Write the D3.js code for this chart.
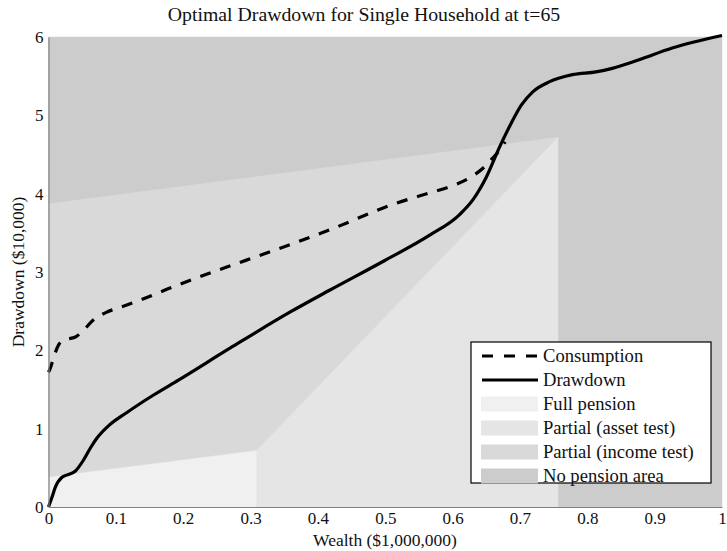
<!DOCTYPE html>
<html><head><meta charset="utf-8">
<script src="https://cdn.jsdelivr.net/npm/d3@7"></script>
<style>body{margin:0;background:#fff}</style>
</head><body>
<svg id="c" width="727" height="551"></svg>
<script>
// ---- data ----
const title = "Optimal Drawdown for Single Household at t=65";
const xLabel = "Wealth ($1,000,000)";
const yLabel = "Drawdown ($10,000)";
const xTicks = [0,0.1,0.2,0.3,0.4,0.5,0.6,0.7,0.8,0.9,1];
const xTickLabels = ["0","0.1","0.2","0.3","0.4","0.5","0.6","0.7","0.8","0.9","1"];
const yTicks = [0,1,2,3,4,5,6];

const drawX = [0,0.005,0.01,0.02,0.028,0.04,0.052,0.062,0.072,0.087,0.117,0.156,0.193,0.27,0.359,0.418,0.5,0.566,0.61,0.63,0.65,0.67,0.687,0.702,0.719,0.744,0.778,0.813,0.837,0.877,0.926,1.0];
const drawY = [0,0.12,0.25,0.38,0.41,0.46,0.6,0.75,0.88,1.02,1.21,1.43,1.62,2.03,2.49,2.77,3.15,3.47,3.73,3.92,4.21,4.6,4.9,5.13,5.3,5.43,5.52,5.555,5.6,5.71,5.86,6.02];

const consX = [0,0.003,0.008,0.015,0.022,0.04,0.05,0.067,0.087,0.107,0.136,0.185,0.244,0.277,0.418,0.517,0.566,0.596,0.625,0.647,0.659,0.672,0.678];
const consY = [1.72,1.78,1.92,2.07,2.13,2.17,2.24,2.39,2.49,2.55,2.64,2.81,3.0,3.1,3.54,3.88,4.01,4.09,4.2,4.34,4.45,4.58,4.66];

const fullPension = [[0,0],[0,0.38],[0.309,0.72],[0.309,0]];
const assetTest = [[0.309,0],[0.309,0.72],[0.7565,4.72],[0.7565,0]];
const incomeTest = [[0,0.38],[0,3.87],[0.7565,4.72],[0.309,0.72]];
const noPension = [[0,0],[0,6],[1,6],[1,0]];

const legendLabels = ["Consumption","Drawdown","Full pension","Partial (asset test)","Partial (income test)","No pension area"];
const regionColors = {full:"#f0f0f0", asset:"#e5e5e5", income:"#d9d9d9", none:"#cccccc"};

const FONT = "Liberation Serif";

// ---- chart ----
const svg = d3.select("#c");
const x = d3.scaleLinear().domain([0,1]).range([48.5,722]);
const y = d3.scaleLinear().domain([0,6]).range([507,37]);
const poly = d3.line().x(d=>x(d[0])).y(d=>y(d[1]));

[[noPension,regionColors.none],[incomeTest,regionColors.income],[assetTest,regionColors.asset],[fullPension,regionColors.full]]
  .forEach(([p,c])=>svg.append("path").attr("d",poly(p)+"Z").attr("fill",c).attr("stroke",c).attr("stroke-width",0.5));

const curve = d3.line().curve(d3.curveMonotoneX).x(d=>x(d[0])).y(d=>y(d[1]));
svg.append("path").attr("d",curve(consX.map((v,i)=>[v,consY[i]])))
  .attr("fill","none").attr("stroke","#000").attr("stroke-width",3.2).attr("stroke-dasharray","11,10");
svg.append("path").attr("d",curve(drawX.map((v,i)=>[v,drawY[i]])))
  .attr("fill","none").attr("stroke","#000").attr("stroke-width",3.2).attr("stroke-linejoin","round");

// axes
const xa = svg.append("g").attr("transform","translate(0,507)")
  .call(d3.axisBottom(x).tickValues(xTicks).tickFormat((d,i)=>xTickLabels[i]).tickSize(0).tickPadding(5));
const ya = svg.append("g").attr("transform","translate(48.5,0)")
  .call(d3.axisLeft(y).tickValues(yTicks).tickFormat(d3.format("d")).tickSize(0).tickPadding(5));
[xa,ya].forEach(a=>{a.attr("font-family",FONT).attr("font-size",17);
  a.select(".domain").attr("stroke","#808080").attr("stroke-width",1.2);
  a.selectAll("text").attr("fill","#111");});

const T = (sel)=>sel.attr("font-family",FONT).attr("fill","#111");
T(svg.append("text")).attr("x",364).attr("y",21).attr("text-anchor","middle").attr("font-size",19.8).text(title);
T(svg.append("text")).attr("x",385).attr("y",546).attr("text-anchor","middle").attr("font-size",17.5).text(xLabel);
T(svg.append("text")).attr("transform","translate(24,272) rotate(-90)").attr("text-anchor","middle").attr("font-size",17.5).text(yLabel);

// legend
const lg = svg.append("g");
lg.append("rect").attr("x",471).attr("y",342).attr("width",240).attr("height",141).attr("fill","#fff").attr("stroke","#000").attr("stroke-width",1.2);
const swCols = [null,null,regionColors.full,regionColors.asset,regionColors.income,regionColors.none];
legendLabels.forEach((lab,i)=>{
  const cy = 356 + i*24;
  if(i===0) lg.append("line").attr("x1",482).attr("x2",538).attr("y1",cy).attr("y2",cy).attr("stroke","#000").attr("stroke-width",3.2).attr("stroke-dasharray","11,11");
  else if(i===1) lg.append("line").attr("x1",482).attr("x2",538).attr("y1",cy).attr("y2",cy).attr("stroke","#000").attr("stroke-width",3.2);
  else lg.append("rect").attr("x",481).attr("y",cy-7.5).attr("width",57).attr("height",15).attr("fill",swCols[i]);
  T(lg.append("text")).attr("x",543).attr("y",cy+5.5).attr("font-size",18.6).text(lab);
});
</script>
</body></html>
